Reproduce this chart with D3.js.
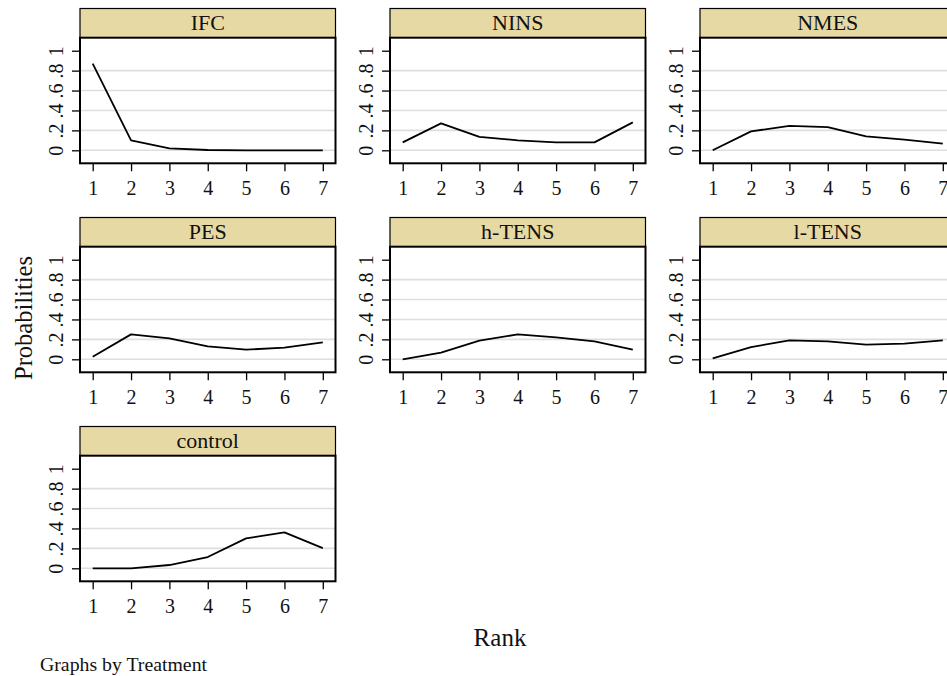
<!DOCTYPE html>
<html>
<head>
<meta charset="utf-8">
<script src="https://cdn.jsdelivr.net/npm/d3@7"></script>
<style>
  html, body { margin: 0; padding: 0; background: #ffffff; }
  svg { display: block; }
</style>
</head>
<body>
<div id="chart"></div>
<script>
// ---------------- data ----------------
const treatments = ["IFC", "NINS", "NMES", "PES", "h-TENS", "l-TENS", "control"];
const ranks = [1, 2, 3, 4, 5, 6, 7];
const yTickValues = [0, 0.2, 0.4, 0.6, 0.8, 1];
const yTickLabels = ["0", ".2", ".4", ".6", ".8", "1"];
const gridValues = [0, 0.2, 0.4, 0.6, 0.8];

const probIFC     = [0.87, 0.10, 0.02, 0.003, 0.0, 0.0, 0.0];
const probNINS    = [0.08, 0.27, 0.135, 0.10, 0.08, 0.08, 0.28];
const probNMES    = [0.0, 0.19, 0.245, 0.233, 0.14, 0.107, 0.067];
const probPES     = [0.026, 0.25, 0.21, 0.13, 0.097, 0.117, 0.17];
const probHTENS   = [0.0, 0.067, 0.187, 0.25, 0.22, 0.18, 0.097];
const probLTENS   = [0.01, 0.123, 0.19, 0.18, 0.147, 0.157, 0.19];
const probControl = [0.0, 0.0, 0.033, 0.113, 0.30, 0.36, 0.203];

const seriesValues = [probIFC, probNINS, probNMES, probPES, probHTENS, probLTENS, probControl];

const yAxisTitle = "Probabilities";
const xAxisTitle = "Rank";
const noteText = "Graphs by Treatment";

// ---------------- layout ----------------
const W = 947, H = 676;
const colLeft = [80, 390, 700];
const rowTop = [8.5, 217.5, 426.5];
const panelW = 255.5;
const stripH = 29.2;
const plotH = 125.6;
const padX = 12.7, padY = 13;
const fontFam = "'Liberation Serif', 'Times New Roman', serif";
const stripFill = "#e7d9a4";
const gridColor = "#dedede";

const svg = d3.select("#chart").append("svg")
  .attr("width", W).attr("height", H)
  .attr("viewBox", `0 0 ${W} ${H}`);

svg.append("rect").attr("width", W).attr("height", H).attr("fill", "#ffffff");

treatments.forEach((name, i) => {
  const col = i % 3, row = Math.floor(i / 3);
  const left = colLeft[col];
  const stripTop = rowTop[row];
  const top = stripTop + stripH;
  const bottom = top + plotH;
  const right = left + panelW;

  const x = d3.scaleLinear().domain([1, 7]).range([left + padX, right - padX]);
  const y = d3.scaleLinear().domain([0, 1]).range([bottom - padY, top + padY]);

  const g = svg.append("g").attr("class", "panel");

  // strip
  g.append("rect")
    .attr("x", left).attr("y", stripTop)
    .attr("width", panelW).attr("height", stripH)
    .attr("fill", stripFill).attr("stroke", "#000").attr("stroke-width", 1.2);
  g.append("text")
    .attr("x", (left + right) / 2).attr("y", stripTop + 21.8)
    .attr("text-anchor", "middle")
    .attr("font-family", fontFam).attr("font-size", 22)
    .attr("fill", "#111")
    .text(name);

  // plot region
  g.append("rect")
    .attr("x", left).attr("y", top)
    .attr("width", panelW).attr("height", plotH)
    .attr("fill", "#ffffff");

  // gridlines
  g.selectAll("line.grid").data(gridValues).enter().append("line")
    .attr("class", "grid")
    .attr("x1", left).attr("x2", right)
    .attr("y1", d => y(d)).attr("y2", d => y(d))
    .attr("stroke", gridColor).attr("stroke-width", 1.6);

  // data line
  const pts = ranks.map((r, k) => ({ r, v: seriesValues[i][k] }));
  g.append("path")
    .datum(pts)
    .attr("fill", "none")
    .attr("stroke", "#000")
    .attr("stroke-width", 1.8)
    .attr("stroke-linejoin", "round")
    .attr("d", d3.line().x(d => x(d.r)).y(d => y(d.v)));

  // border
  g.append("rect")
    .attr("x", left).attr("y", top)
    .attr("width", panelW).attr("height", plotH)
    .attr("fill", "none").attr("stroke", "#000").attr("stroke-width", 2);

  // x axis
  const xAxis = g.append("g")
    .attr("transform", `translate(0,${bottom})`)
    .call(d3.axisBottom(x).tickValues(ranks).tickFormat(d3.format("d")).tickSize(8));
  xAxis.select(".domain").remove();
  xAxis.selectAll(".tick line").attr("stroke", "#000").attr("stroke-width", 1.3);
  xAxis.selectAll(".tick text")
    .attr("y", 32).attr("dy", null)
    .attr("font-family", fontFam).attr("font-size", 20).attr("fill", "#111");

  // y axis
  const yAxis = g.append("g")
    .attr("transform", `translate(${left},0)`)
    .call(d3.axisLeft(y).tickValues(yTickValues)
      .tickFormat((d, k) => yTickLabels[k]).tickSize(8));
  yAxis.select(".domain").remove();
  yAxis.selectAll(".tick line").attr("stroke", "#000").attr("stroke-width", 1.3);
  yAxis.selectAll(".tick text")
    .attr("x", null).attr("dy", null)
    .attr("transform", "translate(-17,0) rotate(-90)")
    .attr("text-anchor", "middle")
    .attr("font-family", fontFam).attr("font-size", 20).attr("fill", "#111");
});

// axis titles
svg.append("text")
  .attr("transform", "translate(32,318) rotate(-90)")
  .attr("text-anchor", "middle")
  .attr("font-family", fontFam).attr("font-size", 24.5).attr("fill", "#111")
  .text(yAxisTitle);

svg.append("text")
  .attr("x", 500).attr("y", 646)
  .attr("text-anchor", "middle")
  .attr("font-family", fontFam).attr("font-size", 25).attr("fill", "#111")
  .text(xAxisTitle);

svg.append("text")
  .attr("x", 40).attr("y", 671)
  .attr("font-family", fontFam).attr("font-size", 19.8).attr("fill", "#111")
  .text(noteText);
</script>
</body>
</html>
